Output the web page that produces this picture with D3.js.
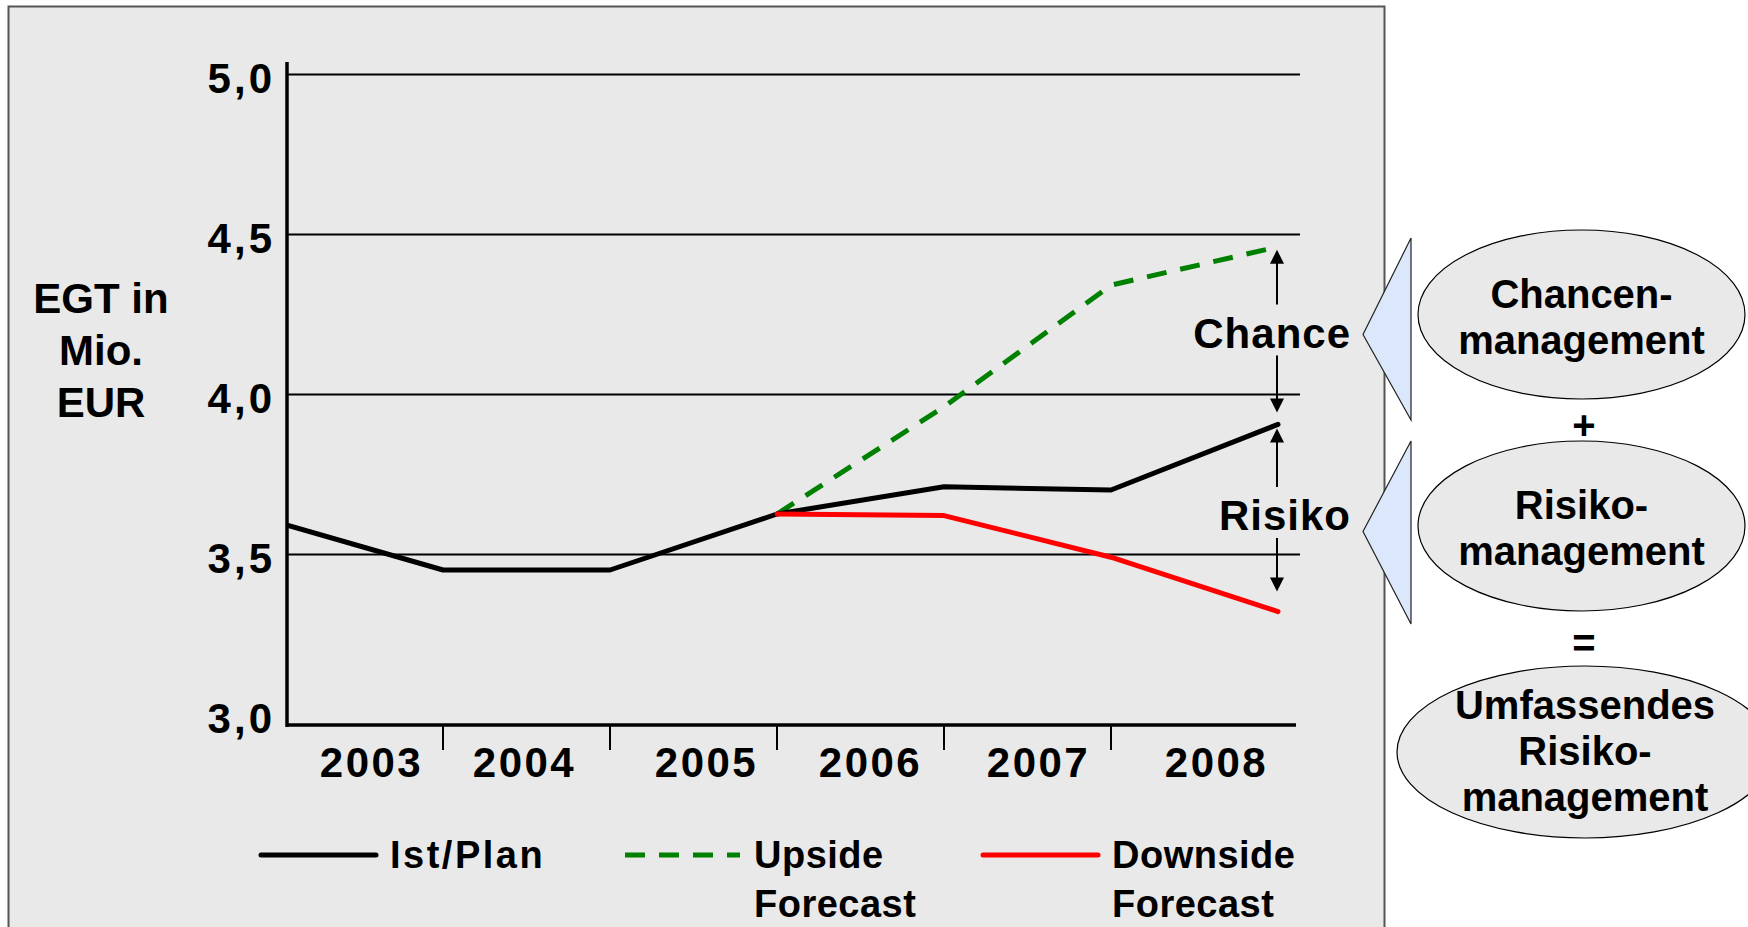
<!DOCTYPE html>
<html>
<head>
<meta charset="utf-8">
<script src="https://cdn.jsdelivr.net/npm/d3@7"></script>
<style>
    body{margin:0;background:#fff;}
    text{font-family:"Liberation Sans",Arial,sans-serif;font-weight:bold;fill:#000;}
</style>
</head>
<body>
<div id="canvas"></div>
<script>
// Werte an den Jahresgrenzen (Anfang 2003 ... Ende 2008)
var years = ["2003","2004","2005","2006","2007","2008"];
var yTicks = [3.0,3.5,4.0,4.5,5.0];
var istPlan = [3.60,3.45,3.45,3.625,3.71,3.70,3.905];
var upside = [null,null,null,3.625,3.96,4.34,4.46];
var downside = [null,null,null,3.625,3.62,3.49,3.32];
var yTitle = ["EGT in","Mio.","EUR"];
var legendLabels = [["Ist/Plan"],["Upside","Forecast"],["Downside","Forecast"]];
var bubbleTexts = [["Chancen-","management"],["Risiko-","management"],["Umfassendes","Risiko-","management"]];

(function(){

    var svg = d3.select("#canvas").append("svg").attr("width",1748).attr("height",927);

    var x = d3.scaleBand().domain(years).range([276,1278]);
    var y = d3.scaleLinear().domain([3,5]).range([714,74]);
    var axisX = 287, baseY = 725;
    var labelShift = [12,-2,13,10,11,22];

    function edge(i){
        return i < years.length ? x(years[i]) : x(years[years.length-1]) + x.bandwidth();
    }

    // grauer Hintergrund
    svg.append("rect")
        .attr("x",8.5).attr("y",6.5).attr("width",1376).attr("height",960)
        .attr("fill","#e9e9e9").attr("stroke","#555").attr("stroke-width",2);

    // Gitterlinien + Beschriftung
    var yAxis = svg.append("g")
        .attr("transform","translate("+axisX+",0)")
        .call(d3.axisLeft(y).tickValues(yTicks).tickSize(-1013).tickPadding(12)
            .tickFormat(function(d){ return d3.format(".1f")(d).replace(".",","); }));
    yAxis.select(".domain").remove();
    yAxis.selectAll(".tick line").attr("stroke","#000").attr("stroke-width",2)
        .filter(function(d){ return d === 3; }).remove();
    yAxis.selectAll(".tick text")
        .attr("font-family",null).attr("font-size",null)
        .style("font-size","42px").style("letter-spacing","3px").attr("dy","0.43em");

    // Achsen
    svg.append("line").attr("x1",axisX).attr("x2",1296).attr("y1",baseY).attr("y2",baseY)
        .attr("stroke","#000").attr("stroke-width",3.5);
    svg.append("line").attr("x1",axisX).attr("x2",axisX).attr("y1",62).attr("y2",baseY+2)
        .attr("stroke","#000").attr("stroke-width",3.5);
    svg.selectAll(".xtick").data(d3.range(1,years.length)).enter().append("line")
        .attr("x1",edge).attr("x2",edge).attr("y1",baseY).attr("y2",baseY+25)
        .attr("stroke","#000").attr("stroke-width",2);
    svg.selectAll(".xlabel").data(years).enter().append("text")
        .attr("x",function(d,i){ return x(d) + x.bandwidth()/2 + labelShift[i]; })
        .attr("y",777)
        .attr("text-anchor","middle")
        .style("font-size","42px").style("letter-spacing","2.5px")
        .text(function(d){ return d; });

    // Achsentitel
    svg.append("text").attr("text-anchor","middle").style("font-size","42px")
        .selectAll("tspan").data(yTitle).enter().append("tspan")
        .attr("x",101).attr("y",function(d,i){ return 313 + i*52; })
        .text(function(d){ return d; });

    // Linien
    var clip = svg.append("clipPath").attr("id","plotclip");
    clip.append("rect").attr("x",axisX).attr("y",0).attr("width",1100).attr("height",900);

    var line = d3.line()
        .defined(function(d){ return d !== null; })
        .x(function(d,i){ return edge(i); })
        .y(function(d){ return y(d); });

    function drawLine(values,color,dash){
        return svg.append("path").datum(values)
            .attr("clip-path","url(#plotclip)")
            .attr("d",line)
            .attr("fill","none").attr("stroke",color).attr("stroke-width",5)
            .attr("stroke-linejoin","round").attr("stroke-linecap",dash ? "butt" : "round")
            .attr("stroke-dasharray",dash);
    }
    drawLine(upside,"#008000","20,14");
    drawLine(istPlan,"#000",null);
    drawLine(downside,"#ff0000",null);

    // Pfeile Chance / Risiko
    function drawRange(top,bottom,label,topGap,bottomGap){
        var ax = edge(years.length) - 1;
        var yTop = y(top) + topGap, yBot = y(bottom) - bottomGap;
        var base = (y(top) + y(bottom))/2 + 12;
        svg.append("line").attr("x1",ax).attr("x2",ax).attr("y1",yTop+12).attr("y2",base-43)
            .attr("stroke","#000").attr("stroke-width",2);
        svg.append("line").attr("x1",ax).attr("x2",ax).attr("y1",base+8).attr("y2",yBot-12)
            .attr("stroke","#000").attr("stroke-width",2);
        svg.append("path").attr("d","M"+ax+","+yTop+"L"+(ax-7)+","+(yTop+14)+"L"+(ax+7)+","+(yTop+14)+"Z");
        svg.append("path").attr("d","M"+ax+","+yBot+"L"+(ax-7)+","+(yBot-14)+"L"+(ax+7)+","+(yBot-14)+"Z");
        svg.append("text").attr("x",1351).attr("y",base).attr("text-anchor","end")
            .style("font-size","42px").style("letter-spacing","1px").text(label);
    }
    drawRange(upside[6],istPlan[6],"Chance",3,12);
    drawRange(istPlan[6],downside[6],"Risiko",4,20);

    // Legende
    var legendStyles = [{color:"#000",dash:null,ls:"2.5px"},{color:"#008000",dash:"20,14",ls:"0.5px"},{color:"#ff0000",dash:null,ls:"0.5px"}];
    var legendX = [261,625,983];
    var lg = svg.selectAll(".legend").data(legendLabels).enter().append("g")
        .attr("transform",function(d,i){ return "translate("+legendX[i]+",855)"; });
    lg.append("line").attr("x1",0).attr("x2",115).attr("y1",0).attr("y2",0)
        .attr("stroke",function(d,i){ return legendStyles[i].color; })
        .attr("stroke-width",5)
        .attr("stroke-linecap",function(d,i){ return legendStyles[i].dash ? "butt" : "round"; })
        .attr("stroke-dasharray",function(d,i){ return legendStyles[i].dash; });
    lg.append("text").style("font-size","38px")
        .style("letter-spacing",function(d,i){ return legendStyles[i].ls; })
        .selectAll("tspan").data(function(d){ return d; }).enter().append("tspan")
        .attr("x",129).attr("y",function(d,i){ return 13 + i*49; })
        .text(function(d){ return d; });

    // Keile
    [[238,334.5,420],[441,531.5,624]].forEach(function(t){
        svg.append("path")
            .attr("d","M1411,"+t[0]+"L1363,"+t[1]+"L1411,"+t[2]+"Z")
            .attr("fill","#dbe7fb").attr("stroke","#222").attr("stroke-width",1.2);
    });

    // Ellipsen
    var bubbles = [{cx:1581.5,cy:314.5,rx:163.5,ry:84.5,top:308},
                   {cx:1581.5,cy:526,rx:163.5,ry:85,top:519},
                   {cx:1585,cy:752,rx:188,ry:86,top:719}];
    bubbles.forEach(function(b,i){
        svg.append("ellipse").attr("cx",b.cx).attr("cy",b.cy).attr("rx",b.rx).attr("ry",b.ry)
            .attr("fill","#e9e9e9").attr("stroke","#000").attr("stroke-width",1.2);
        svg.append("text").attr("text-anchor","middle").style("font-size","40px")
            .selectAll("tspan").data(bubbleTexts[i]).enter().append("tspan")
            .attr("x",b.cx).attr("y",function(d,j){ return b.top + j*46; })
            .text(function(d){ return d; });
    });
    svg.append("text").attr("x",1584).attr("y",439).attr("text-anchor","middle")
        .style("font-size","40px").text("+");
    svg.append("text").attr("x",1584).attr("y",657).attr("text-anchor","middle")
        .style("font-size","40px").text("=");

})();
</script>
</body>
</html>
